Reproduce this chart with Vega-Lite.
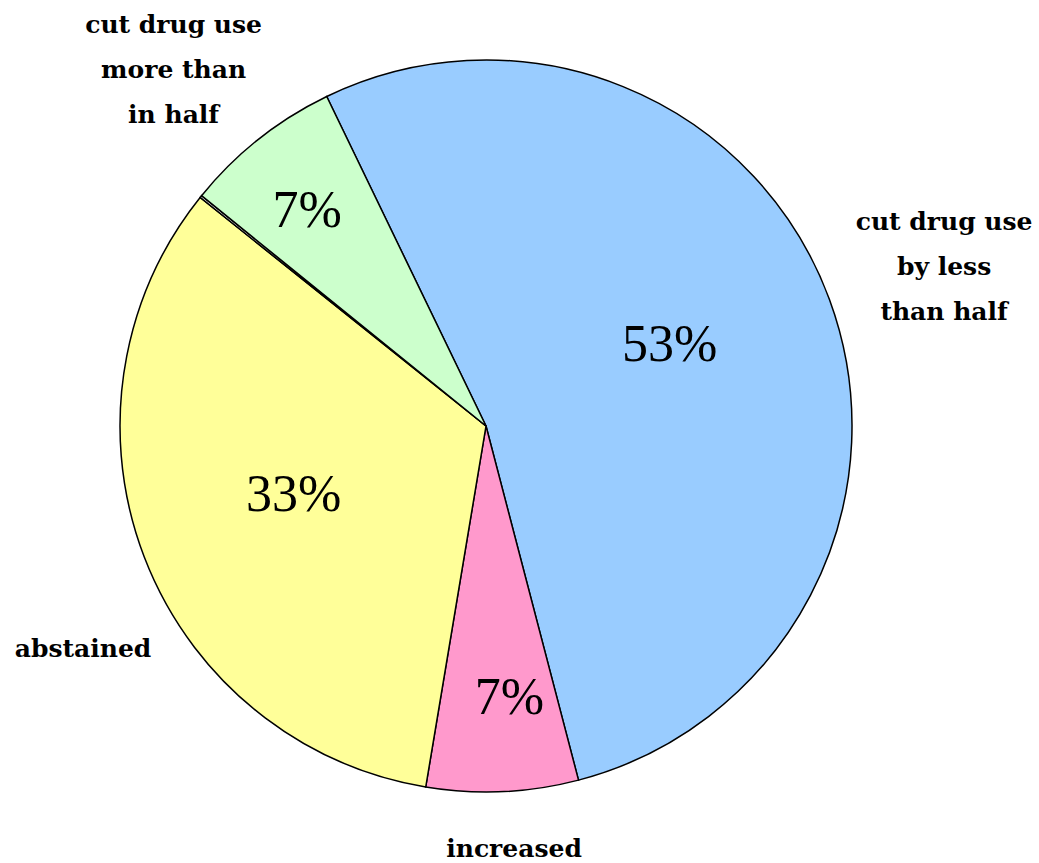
{
  "$schema": "https://vega.github.io/schema/vega-lite/v6.json",
  "width": 972,
  "height": 852,
  "autosize": {"type": "none"},
  "padding": {"left": 0, "top": 0, "right": 67, "bottom": 11},
  "background": "white",
  "config": {"view": {"stroke": null}},
  "data": {
    "values": [
      {"category": "cut drug use by less than half", "value": 53.1, "pct": "53%", "name": "cut drug use\nby less\nthan half", "ord": 1},
      {"category": "increased", "value": 6.7, "pct": "7%", "name": "increased", "ord": 2},
      {"category": "abstained", "value": 33.1, "pct": "33%", "name": "abstained", "ord": 3},
      {"category": "other", "value": 0.1, "pct": "", "name": "", "ord": 4},
      {"category": "cut drug use more than in half", "value": 7.0, "pct": "7%", "name": "cut drug use\nmore than\nin half", "ord": 5}
    ]
  },
  "encoding": {
    "theta": {"field": "value", "type": "quantitative", "stack": true, "scale": {"range": [-0.4503, 5.8329]}},
    "order": {"field": "ord", "type": "quantitative"}
  },
  "layer": [
    {
      "mark": {"type": "arc", "outerRadius": 366, "stroke": "#000000", "strokeWidth": 1.5},
      "encoding": {
        "color": {
          "field": "category", "type": "nominal", "legend": null,
          "scale": {
            "domain": ["cut drug use by less than half", "increased", "abstained", "other", "cut drug use more than in half"],
            "range": ["#99CCFF", "#FF99CC", "#FFFF99", "#FFFFFF", "#CCFFCC"]
          }
        }
      }
    },
    {
      "mark": {"type": "text", "radius": 200, "dx": -4, "dy": -12, "font": "Liberation Serif", "fontSize": 52, "fill": "#000000", "align": "center", "baseline": "middle"},
      "encoding": {"detail": {"field": "category"}, "text": {"condition": {"test": "datum.ord === 1", "field": "pct"}, "value": ""}}
    },
    {
      "mark": {"type": "text", "radius": 273, "dx": 11, "dy": -1, "font": "Liberation Serif", "fontSize": 52, "fill": "#000000", "align": "center", "baseline": "middle"},
      "encoding": {"detail": {"field": "category"}, "text": {"condition": {"test": "datum.ord === 2", "field": "pct"}, "value": ""}}
    },
    {
      "mark": {"type": "text", "radius": 205, "dx": -1, "dy": -4, "font": "Liberation Serif", "fontSize": 52, "fill": "#000000", "align": "center", "baseline": "middle"},
      "encoding": {"detail": {"field": "category"}, "text": {"condition": {"test": "datum.ord === 3", "field": "pct"}, "value": ""}}
    },
    {
      "mark": {"type": "text", "radius": 280, "dx": -5, "dy": 4, "font": "Liberation Serif", "fontSize": 52, "fill": "#000000", "align": "center", "baseline": "middle"},
      "encoding": {"detail": {"field": "category"}, "text": {"condition": {"test": "datum.ord === 5", "field": "pct"}, "value": ""}}
    },
    {
      "mark": {"type": "text", "radius": 485, "dx": 3, "dy": -36, "font": "DejaVu Serif", "fontWeight": "bold", "fontSize": 25, "lineHeight": 45, "lineBreak": "\n", "fill": "#000000", "align": "center", "baseline": "middle"},
      "encoding": {"detail": {"field": "category"}, "text": {"condition": {"test": "datum.ord === 1", "field": "name"}, "value": ""}}
    },
    {
      "mark": {"type": "text", "radius": 423, "dx": 9, "dy": 0, "font": "DejaVu Serif", "fontWeight": "bold", "fontSize": 25, "lineHeight": 45, "lineBreak": "\n", "fill": "#000000", "align": "center", "baseline": "middle"},
      "encoding": {"detail": {"field": "category"}, "text": {"condition": {"test": "datum.ord === 2", "field": "name"}, "value": ""}}
    },
    {
      "mark": {"type": "text", "radius": 440, "dx": 8, "dy": 66, "font": "DejaVu Serif", "fontWeight": "bold", "fontSize": 25, "lineHeight": 45, "lineBreak": "\n", "fill": "#000000", "align": "center", "baseline": "middle"},
      "encoding": {"detail": {"field": "category"}, "text": {"condition": {"test": "datum.ord === 3", "field": "name"}, "value": ""}}
    },
    {
      "mark": {"type": "text", "radius": 474, "dx": -18, "dy": -30, "font": "DejaVu Serif", "fontWeight": "bold", "fontSize": 25, "lineHeight": 45, "lineBreak": "\n", "fill": "#000000", "align": "center", "baseline": "middle"},
      "encoding": {"detail": {"field": "category"}, "text": {"condition": {"test": "datum.ord === 5", "field": "name"}, "value": ""}}
    }
  ]
}
